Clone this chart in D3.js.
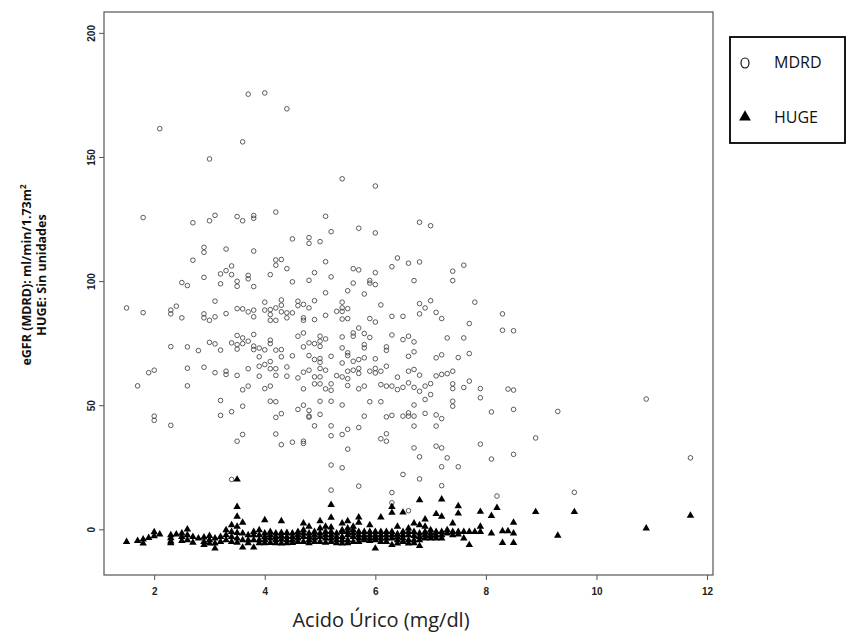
<!DOCTYPE html>
<html><head><meta charset="utf-8">
<script src="https://cdn.jsdelivr.net/npm/d3@7"></script>
<style>
body{margin:0;background:#fff;}
svg{display:block;}
</style></head>
<body>
<svg id="chart" width="854" height="635"></svg>
<script>
const xTicks = [2, 4, 6, 8, 10, 12];
const yTicks = [0, 50, 100, 150, 200];
const xTitle = "Acido Úrico (mg/dl)";
const yTitle1 = "eGFR (MDRD): ml/min/1.73m";
const yTitle2 = "HUGE: Sin unidades";
const legendLabels = ["MDRD", "HUGE"];

// MDRD eGFR vs uric acid (circles)
const mdrdPoints = [
[3.7,175.3],[4.0,175.8],[4.4,169.4],[2.1,161.4],[3.6,156.1],[3.0,149.2],[1.8,125.6],[2.7,123.5],[3.0,124.3],[3.1,126.5],
[3.5,126],[3.6,124.3],[3.8,126.4],[3.8,125.3],[4.2,127.8],[4.5,117],[4.8,117.5],[4.8,115.2],[2.9,113.6],[2.9,111.6],
[3.3,112.9],[3.8,112.1],[2.7,108.4],[4.2,108.5],[4.3,108.7],[4.2,106.4],[3.4,106.1],[4.4,105],[3.2,102.9],[3.3,104.2],
[3.4,102.6],[3.7,102.3],[4.1,102.6],[2.9,101.5],[5.4,141.2],[6.0,138.3],[5.1,126.1],[5.2,119.9],[5.7,121.3],[6.0,119.4],
[6.8,123.7],[7.0,122.3],[5.0,115.9],[5.1,107.8],[6.4,109.3],[6.3,105.8],[6.6,107.2],[6.8,107.7],[7.4,104],[7.6,106.4],
[4.9,103.4],[5.2,101.7],[5.6,105],[5.7,104.5],[6.0,103.4],[3.7,100.9],[4.5,99.7],[4.8,100.3],[2.5,99.4],[2.6,98.2],
[3.2,98.9],[3.5,99.9],[3.5,97.9],[3.8,97.8],[1.5,89.2],[1.8,87.3],[2.3,88.3],[2.3,86.8],[2.4,89.9],[2.5,85.2],
[3.1,91.9],[2.9,86.8],[2.9,85.2],[3.0,84.2],[3.1,85.6],[3.3,86.9],[3.5,88.9],[3.6,88.8],[3.7,87.6],[3.8,88.3],
[3.8,85.6],[4.0,91.5],[4.0,88.3],[4.1,88.5],[4.1,86.5],[4.1,84.2],[4.2,89.2],[4.2,84.2],[4.3,92.4],[4.3,90.3],
[4.3,87.6],[4.4,87.2],[4.4,85.2],[4.5,87.2],[4.6,91.9],[4.6,90.1],[4.7,90.6],[4.7,85.2],[4.8,89.2],[2.3,73.6],
[2.6,73.5],[2.8,72],[3.0,75.3],[3.1,74.7],[3.2,72.2],[3.4,75.1],[3.5,78.1],[3.5,74.4],[3.5,72.6],[3.6,77.1],
[3.6,74.8],[3.7,75.8],[3.8,78.5],[3.8,73.8],[3.8,72.4],[3.9,73],[3.9,69.5],[4.0,72.3],[4.0,66.4],[4.1,76.2],
[4.1,74.8],[4.1,67.6],[4.1,64.7],[4.2,72.2],[4.3,72.4],[4.3,69.5],[4.5,69.9],[4.6,77.8],[4.7,79.1],[4.7,73.5],
[4.8,75.1],[4.8,70],[1.9,63.1],[2.0,64.1],[2.6,64.9],[2.9,65.3],[3.1,63.1],[3.3,63.7],[3.3,62.4],[3.5,62],
[3.7,64.7],[3.9,65.7],[3.9,61.7],[4.2,64.7],[4.2,62],[4.4,65.4],[4.4,61.7],[4.6,61],[4.7,63.3],[1.7,57.8],
[2.6,57.8],[3.6,56.2],[3.7,57.7],[4.0,56.7],[4.1,57.7],[4.7,56.6],[3.2,51.9],[3.6,49.6],[4.1,51.6],[4.2,51.4],
[4.7,50],[4.6,48.3],[4.8,47.9],[3.2,45.9],[3.4,47.4],[2.0,45.6],[2.0,43.9],[2.3,41.9],[4.2,45.1],[4.3,46.6],
[4.8,45.6],[3.6,38.2],[3.5,35.5],[4.2,38.4],[4.3,34.1],[4.5,35.1],[4.7,35.5],[4.7,34.6],[7.4,100.2],[6.7,100.2],
[5.1,95.3],[5.5,96.1],[5.6,99.2],[5.9,100.2],[5.9,99.2],[6.0,98.6],[5.8,94.8],[4.9,92.1],[5.4,91.5],[5.4,89.2],
[5.5,88.9],[5.1,86.2],[5.3,87.8],[5.4,87.8],[5.4,84.7],[5.5,84.9],[4.7,84.2],[4.9,84.5],[5.9,84.9],[6.0,83.5],
[6.1,90.4],[6.3,85.8],[6.5,85.8],[6.8,90.9],[6.9,89.2],[7.0,92.1],[6.8,86.8],[7.1,87.4],[7.2,84.9],[7.8,91.5],
[7.7,82.9],[5.7,81.1],[5.6,79.1],[5.6,77.8],[5.8,78.9],[5.9,77.3],[4.9,74.8],[5.0,77.8],[5.0,75.8],[5.1,76.7],
[5.0,73.7],[5.4,77.5],[5.4,73.1],[5.8,74.4],[5.8,73.1],[6.3,78.3],[6.5,76.4],[6.6,77.8],[6.7,75.5],[6.7,71.5],
[6.2,73.5],[6.2,72.1],[7.3,77.1],[7.6,77.1],[7.1,69.1],[7.2,70.3],[7.5,69.2],[7.7,70.8],[4.9,68.4],[5.0,68.8],
[5.0,67.3],[5.2,69.7],[5.4,67.0],[5.5,71.1],[5.5,70],[5.6,67.7],[5.7,68.4],[5.8,69.1],[6.0,68.7],[6.2,65.7],
[6.6,69.7],[4.8,64.1],[4.9,61.4],[5.0,64.8],[5.0,61.4],[5.1,64.1],[5.3,61.9],[5.4,61.4],[5.5,63.7],[5.5,60.7],
[5.6,64.1],[5.7,64.8],[5.7,62.8],[5.9,63.7],[6.0,64.8],[6.0,63],[6.1,63.7],[6.4,61.3],[6.6,63.7],[6.7,64.4],
[6.8,62.1],[7.1,61.8],[7.2,62.4],[7.3,62.7],[7.4,63.7],[4.9,58.6],[5.0,58.6],[5.1,56.6],[5.2,58.6],[5.2,56.0],
[5.5,57.9],[5.7,56.6],[5.8,57.7],[6.1,58.3],[6.2,57.7],[6.3,57.7],[6.4,56.3],[6.5,57.2],[6.6,59],[6.7,57.2],
[6.8,55.6],[6.9,57.7],[7.0,58.7],[7.0,54.3],[7.4,58.6],[7.4,56.7],[7.6,57.1],[7.7,59.7],[7.9,56.7],[7.9,53],
[8.1,47.3],[4.8,45.2],[5.0,51.6],[5.0,46.3],[4.9,41.7],[5.2,51.6],[5.2,41.7],[5.2,37.7],[5.4,50.1],[5.4,38.2],
[5.5,40.3],[5.7,41],[5.8,45.6],[5.9,51.4],[6.1,51.4],[6.2,45.3],[6.3,45.9],[6.5,45.6],[6.6,46.9],[6.6,45.6],
[6.7,45.6],[6.7,50.1],[6.9,52.3],[6.9,46.7],[7.1,46.1],[7.2,44.6],[7.1,41.6],[7.4,51.6],[7.4,49.6],[6.7,41.6],
[6.2,38.5],[6.1,36.5],[6.2,35.5],[5.5,32.3],[6.7,32.8],[6.8,29.2],[7.1,33.5],[7.2,32.8],[7.3,28.8],[7.2,25.2],
[7.5,25.2],[7.9,34.3],[8.1,28.3],[5.2,25.9],[5.4,24.8],[8.3,86.8],[8.3,80.2],[8.5,80],[8.4,56.5],[8.5,56.1],
[8.5,48.3],[9.3,47.5],[10.9,52.5],[8.9,36.8],[8.5,30.2],[11.7,28.8],[9.6,14.9],[3.4,20.1],[6.5,22.1],[6.8,20.3],
[5.2,15.8],[5.7,17.4],[6.3,14.8],[6.3,10.7],[7.2,17.6],[8.2,13.4],[6.6,7.5]
];

// HUGE score vs uric acid (filled triangles)
const hugePoints = [
[1.5,-5.0],[1.7,-4.6],[1.8,-5.7],[1.8,-4.0],[1.9,-3.4],[2.0,-2.7],[2.0,-1.1],[2.1,-2.0],
[2.3,-2.3],[2.3,-3.5],[2.3,-4.8],[2.3,-5.6],[2.4,-2.0],[2.5,-3.0],[2.5,-4.6],[2.5,-1.6],
[2.6,0.0],[2.6,-2.3],[2.6,-4.3],[2.7,-3.0],[2.7,-5.3],[2.8,-3.6],[2.9,-3.2],[2.9,-5.0],[2.9,-6.3],
[3.0,-4.3],[3.0,-5.7],[3.0,-2.6],[3.1,-7.7],[3.1,-3.6],[3.1,-5.7],[3.2,-3.0],[3.2,-5.0],
[3.3,-0.3],[3.3,-2.3],[3.3,-4.3],[3.4,1.7],[3.4,-1.0],[3.4,-3.0],[3.4,-5.0],
[3.5,20.1],[3.5,9.1],[3.5,5.1],[3.5,1.1],[3.5,-1.4],[3.5,-3.6],[3.5,-5.3],
[3.6,2.7],[3.6,-1.6],[3.6,-4.3],[3.6,-7.3],[3.7,-2.3],[3.7,-4.3],[3.7,-5.6],
[3.8,-2.3],[3.8,-4.3],[3.8,-7.3],[3.8,-1.0],[3.9,-0.3],[3.9,-4.3],[3.9,-2.3],[3.9,-5.6],
[4.0,3.7],[4.0,-1.6],[4.0,-4.3],[4.0,-3.0],[4.0,-5.6],[4.1,-1.0],[4.1,-3.6],[4.1,-5.4],[4.1,-2.3],
[4.2,-1.6],[4.2,-4.3],[4.2,-3.0],[4.2,-5.6],[4.3,3.3],[4.3,-1.4],[4.3,-4.0],[4.3,-5.7],[4.3,-2.6],
[4.4,-1.4],[4.4,-4.3],[4.4,-3.0],[4.4,-5.6],[4.5,-1.6],[4.5,-4.3],[4.5,-3.0],[4.5,-5.4],
[4.6,-1.0],[4.6,-3.6],[4.6,-5.0],[4.6,-2.3],[4.7,2.4],[4.7,-0.3],[4.7,-3.0],[4.7,-5.0],[4.7,-1.6],
[4.8,1.1],[4.8,-1.6],[4.8,-4.3],[4.8,-3.0],[4.8,-5.6],[4.9,-1.0],[4.9,-3.6],[4.9,-5.0],[4.9,-2.3],
[5.0,3.3],[5.0,0.4],[5.0,-3.0],[5.0,-5.0],[5.0,-1.6],[5.1,1.1],[5.1,-1.0],[5.1,-3.6],[5.1,-5.3],[5.1,-2.3],
[5.2,9.9],[5.2,4.7],[5.2,0.8],[5.2,-1.0],[5.2,-3.6],[5.2,-2.3],[5.2,-5.0],[5.3,-1.6],[5.3,-4.3],[5.3,-3.0],[5.3,-5.6],
[5.4,2.4],[5.4,-0.3],[5.4,-3.0],[5.4,-5.7],[5.4,-1.0],[5.4,-4.3],[5.5,3.3],[5.5,0.4],[5.5,-2.3],[5.5,-4.3],[5.5,-1.0],[5.5,-5.6],
[5.6,1.1],[5.6,-3.0],[5.6,-0.3],[5.6,-5.0],[5.6,-1.6],[5.7,4.8],[5.7,2.7],[5.7,-1.0],[5.7,-3.6],[5.7,-2.3],[5.7,-5.0],
[5.8,-1.0],[5.8,-4.3],[5.8,-2.3],[5.8,-3.3],[5.9,1.7],[5.9,-2.3],[5.9,-4.6],[5.9,-1.0],[5.9,-3.6],
[6.0,-1.0],[6.0,-4.3],[6.0,-7.7],[6.0,-2.3],[6.0,-3.3],[6.1,4.8],[6.1,-1.0],[6.1,-3.6],[6.1,-2.3],[6.1,-5.0],
[6.2,-1.0],[6.2,-3.6],[6.2,-5.0],[6.2,-2.3],[6.3,9.1],[6.3,6.7],[6.3,-1.0],[6.3,-3.6],[6.3,-6.3],[6.3,-2.3],
[6.4,1.1],[6.4,-1.9],[6.4,-4.3],[6.4,-5.7],[6.4,-3.0],[6.5,6.8],[6.5,-1.0],[6.5,-3.6],[6.5,-5.0],[6.5,-2.3],
[6.6,0.4],[6.6,-2.3],[6.6,-4.3],[6.6,-5.7],[6.6,-1.0],[6.7,2.4],[6.7,-1.0],[6.7,-4.3],[6.7,-2.6],[6.7,-5.6],
[6.8,11.8],[6.8,1.7],[6.8,-1.6],[6.8,-4.3],[6.8,-6.7],[6.8,-3.0],[6.9,4.0],[6.9,1.1],[6.9,-2.3],[6.9,-1.0],[6.9,-3.6],
[7.0,-0.3],[7.0,-3.6],[7.0,-1.6],[7.0,-2.6],[7.1,6.2],[7.1,-1.0],[7.1,-3.6],[7.1,-2.3],[7.2,12.1],[7.2,5.1],[7.2,-1.0],[7.2,-2.3],[7.2,-3.6],
[7.3,-0.3],[7.3,-1.6],[7.4,2.4],[7.4,-1.0],[7.4,-2.3],[7.5,9.4],[7.5,6.4],[7.5,-1.0],[7.5,-2.0],
[7.6,-1.0],[7.6,-3.6],[7.7,-1.0],[7.7,-6.3],[7.8,-1.0],[7.9,7.1],[7.9,1.1],[7.9,-1.0],
[8.1,5.4],[8.1,-1.6],[8.2,8.7],[8.3,-0.7],[8.3,-5.4],[8.4,-0.7],[8.5,2.7],[8.5,-1.6],[8.5,-5.4],
[8.9,7.0],[9.3,-2.5],[9.6,7.0],[10.9,0.4],[11.7,5.5]
];

const svg = d3.select("#chart");
const plotLeft = 104, plotRight = 713, plotTop = 12, plotBottom = 575;
const x = d3.scaleLinear().domain([1.092, 12.108]).range([plotLeft, plotRight]);
const y = d3.scaleLinear().domain([-18.4, 208.4]).range([plotBottom, plotTop]);

// plot frame
svg.append("rect").attr("x", plotLeft).attr("y", plotTop)
  .attr("width", plotRight - plotLeft).attr("height", plotBottom - plotTop)
  .attr("fill", "none").attr("stroke", "#555").attr("stroke-width", 1.2);

// x axis
const gx = svg.append("g").attr("transform", `translate(0,${plotBottom})`)
  .call(d3.axisBottom(x).tickValues(xTicks).tickSize(5).tickPadding(8).tickFormat(d3.format("d")));
gx.select(".domain").remove();
gx.selectAll("line").attr("stroke", "#555");
gx.selectAll("text").attr("font-family", "'Liberation Sans', Arial, sans-serif")
  .attr("font-size", 10).attr("font-weight", "bold").attr("fill", "#222");

// y axis
const gy = svg.append("g").attr("transform", `translate(${plotLeft},0)`)
  .call(d3.axisLeft(y).tickValues(yTicks).tickSize(5).tickFormat(d3.format("d")));
gy.select(".domain").remove();
gy.selectAll("line").attr("stroke", "#555");
gy.selectAll("text").attr("font-family", "'Liberation Sans', Arial, sans-serif")
  .attr("font-size", 10).attr("font-weight", "bold").attr("fill", "#222")
  .attr("transform", "rotate(-90)").attr("x", 0).attr("y", -9).attr("dy", 0)
  .attr("text-anchor", "middle");

// circles (MDRD)
svg.append("g").selectAll("circle").data(mdrdPoints).join("circle")
  .attr("cx", d => x(d[0])).attr("cy", d => y(d[1])).attr("r", 2.3)
  .attr("fill", "none").attr("stroke", "#4a4a4a").attr("stroke-width", 0.9);

// triangles (HUGE)
const tri = d3.symbol().type(d3.symbolTriangle).size(24);
svg.append("g").selectAll("path").data(hugePoints).join("path")
  .attr("d", tri).attr("transform", d => `translate(${x(d[0])},${y(d[1])})`)
  .attr("fill", "#000");

// axis titles
svg.append("text").attr("x", 381).attr("y", 627).attr("text-anchor", "middle")
  .attr("font-family", "'Open Sans', 'Noto Sans', sans-serif").attr("font-size", 20)
  .attr("fill", "#222").text(xTitle);

const yt = svg.append("g").attr("transform", "translate(0,275) rotate(-90)");
const t1 = yt.append("text").attr("x", 0).attr("y", 31).attr("text-anchor", "middle")
  .attr("font-family", "'Open Sans', 'Noto Sans', sans-serif").attr("font-size", 12.5)
  .attr("font-weight", "bold").attr("fill", "#111");
t1.append("tspan").text(yTitle1);
t1.append("tspan").attr("dy", -5).attr("font-size", 8).text("2");
yt.append("text").attr("x", 0).attr("y", 46).attr("text-anchor", "middle")
  .attr("font-family", "'Open Sans', 'Noto Sans', sans-serif").attr("font-size", 12.5)
  .attr("font-weight", "bold").attr("fill", "#111").text(yTitle2);

// legend
const lg = svg.append("g");
lg.append("rect").attr("x", 730).attr("y", 37).attr("width", 115).attr("height", 106)
  .attr("fill", "#fff").attr("stroke", "#000").attr("stroke-width", 1.8);
lg.append("ellipse").attr("cx", 745).attr("cy", 63).attr("rx", 4).attr("ry", 5)
  .attr("fill", "none").attr("stroke", "#111").attr("stroke-width", 1.2);
lg.append("path").attr("d", d3.symbol().type(d3.symbolTriangle).size(60))
  .attr("transform", "translate(745,117)").attr("fill", "#000");
lg.selectAll("text.lab").data(legendLabels).join("text").attr("class", "lab")
  .attr("x", 774).attr("y", (d, i) => 68 + i * 55)
  .attr("font-family", "'Open Sans', 'Noto Sans', sans-serif").attr("font-size", 16)
  .attr("fill", "#111").text(d => d);
</script>
</body></html>
